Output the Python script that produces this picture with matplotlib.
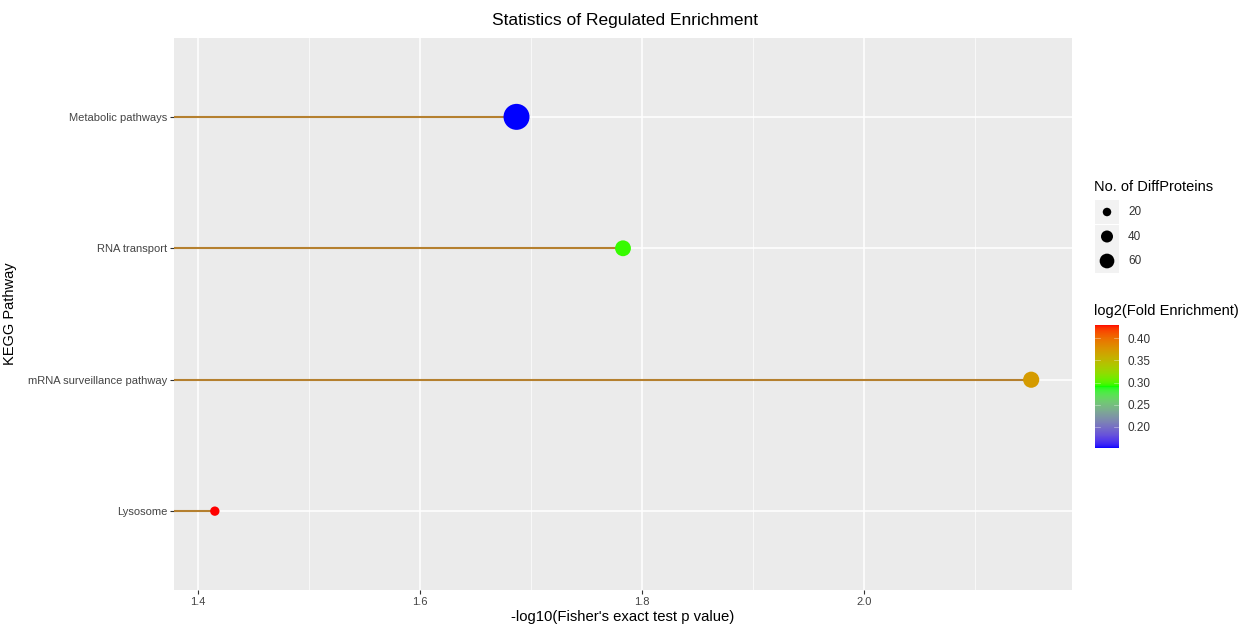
import numpy as np
import matplotlib
matplotlib.use('Agg')
import matplotlib.pyplot as plt
from matplotlib.colors import ListedColormap, Normalize
from matplotlib.patches import Rectangle

plt.rcParams['font.family'] = ['Liberation Sans', 'DejaVu Sans']

# data (bottom to top)
pathways = ['Lysosome', 'mRNA surveillance pathway', 'RNA transport', 'Metabolic pathways']
neg_log10_p = [1.415, 2.151, 1.783, 1.687]
diff_proteins = [8, 24, 23, 62]
log2_fold = [0.43, 0.372, 0.295, 0.152]

x_ticks = [1.4, 1.6, 1.8, 2.0]
x_minor = [1.5, 1.7, 1.9, 2.1]
size_breaks = [20, 40, 60]
color_ticks = [0.20, 0.25, 0.30, 0.35, 0.40]
gradient_stops = ['#0000FF', '#00FF00', '#FF0000']

W, H = 1240, 625


def srgb_to_lab(rgb):
    rgb = np.asarray(rgb, dtype=float)
    lin = np.where(rgb <= 0.04045, rgb / 12.92, ((rgb + 0.055) / 1.055) ** 2.4)
    m = np.array([[0.4124, 0.3576, 0.1805],
                  [0.2126, 0.7152, 0.0722],
                  [0.0193, 0.1192, 0.9505]])
    xyz = m @ lin / np.array([0.95047, 1.0, 1.08883])
    d = 6 / 29
    f = np.where(xyz > d ** 3, np.cbrt(xyz), xyz / (3 * d * d) + 4 / 29)
    return np.array([116 * f[1] - 16, 500 * (f[0] - f[1]), 200 * (f[1] - f[2])])


def lab_to_srgb(lab):
    L, a, b = lab
    fy = (L + 16) / 116
    fx = fy + a / 500
    fz = fy - b / 200
    d = 6 / 29
    f = np.array([fx, fy, fz])
    xyz = np.where(f > d, f ** 3, 3 * d * d * (f - 4 / 29)) * np.array([0.95047, 1.0, 1.08883])
    m_inv = np.array([[3.2406, -1.5372, -0.4986],
                      [-0.9689, 1.8758, 0.0415],
                      [0.0557, -0.2040, 1.0570]])
    lin = np.clip(m_inv @ xyz, 0, 1)
    rgb = np.where(lin <= 0.0031308, 12.92 * lin, 1.055 * lin ** (1 / 2.4) - 0.055)
    return np.clip(rgb, 0, 1)


def lab_ramp(hex_colors, n=256):
    # ggplot-like gradient: interpolate in CIELAB
    labs = [srgb_to_lab(matplotlib.colors.to_rgb(c)) for c in hex_colors]
    pos = np.linspace(0, 1, len(labs))
    out = []
    for t in np.linspace(0, 1, n):
        k = min(np.searchsorted(pos, t, side='right') - 1, len(labs) - 2)
        u = (t - pos[k]) / (pos[k + 1] - pos[k])
        out.append(lab_to_srgb(labs[k] * (1 - u) + labs[k + 1] * u))
    return ListedColormap(out)


cmap = lab_ramp(gradient_stops)
norm = Normalize(min(log2_fold), max(log2_fold))

fig = plt.figure(figsize=(W / 100, H / 100), dpi=100)
ax = fig.add_axes([174 / W, 1 - 590 / H, (1072 - 174) / W, (590 - 38) / H])
ax.set_facecolor('#EBEBEB')

ypos = np.arange(len(pathways))
lo, hi = min(neg_log10_p), max(neg_log10_p)
pad = 0.05 * (hi - lo)
ax.set_xlim(lo - pad, hi + pad)
ax.set_ylim(-0.6, len(pathways) - 0.4)

ax.hlines(ypos, lo - pad, neg_log10_p, color='#B5802F', lw=1.5, zorder=2)
sc = ax.scatter(neg_log10_p, ypos, s=np.array(diff_proteins) * 5.65, c=log2_fold,
                cmap=cmap, norm=norm, edgecolors='none', zorder=3)

ax.set_xticks(x_ticks)
ax.set_xticklabels([f'{t:.1f}' for t in x_ticks])
ax.set_xticks(x_minor, minor=True)
ax.set_yticks(ypos)
ax.set_yticklabels(pathways)
ax.grid(which='major', color='white', lw=1.1, zorder=0)
ax.grid(which='minor', axis='x', color='white', lw=0.5, zorder=0)
ax.set_axisbelow(True)
for sp in ax.spines.values():
    sp.set_visible(False)
ax.tick_params(which='major', color='#333333', length=3, width=0.8,
               labelsize=8, labelcolor='#444444', pad=2)
ax.tick_params(which='minor', length=0)

ax.set_xlabel("-log10(Fisher's exact test p value)", fontsize=10.7)
ax.xaxis.set_label_coords(0.5, -0.036)
ax.set_ylabel('KEGG Pathway', fontsize=10.5)
ax.yaxis.set_label_coords(-0.175, 0.5)

fig.text(625 / W, 1 - 20 / H, 'Statistics of Regulated Enrichment',
         ha='center', va='center', fontsize=12.5)

# size legend
lax = fig.add_axes([0, 0, 1, 1])
lax.set_xlim(0, W)
lax.set_ylim(H, 0)
lax.axis('off')
lax.text(1094, 187, 'No. of DiffProteins', fontsize=10.5, va='center')
for i, b in enumerate(size_breaks):
    yc = 212 + i * 24.5
    lax.add_patch(Rectangle((1095, yc - 12), 24, 24, color='#F2F2F2', lw=0))
    lax.scatter(1107, yc, s=b * 1.87, color='black', edgecolors='none')
    lax.text(1128, yc, str(b), fontsize=8.5, va='center', color='#333333')

# colour legend
lax.text(1094, 311, 'log2(Fold Enrichment)', fontsize=10.5, va='center')
cax = fig.add_axes([1095 / W, 1 - 448 / H, 24 / W, 123 / H])
cb = fig.colorbar(sc, cax=cax, ticks=color_ticks)
cb.outline.set_visible(False)
cax.set_yticklabels([f'{t:.2f}' for t in color_ticks])
cax.tick_params(length=0, labelsize=8.5, labelcolor='#333333', pad=6)
for t in color_ticks:
    cax.axhline(t, xmin=0, xmax=0.2, color='white', lw=0.5, alpha=0.5)
    cax.axhline(t, xmin=0.8, xmax=1, color='white', lw=0.5, alpha=0.5)

fig.savefig('out.png', dpi=100)
